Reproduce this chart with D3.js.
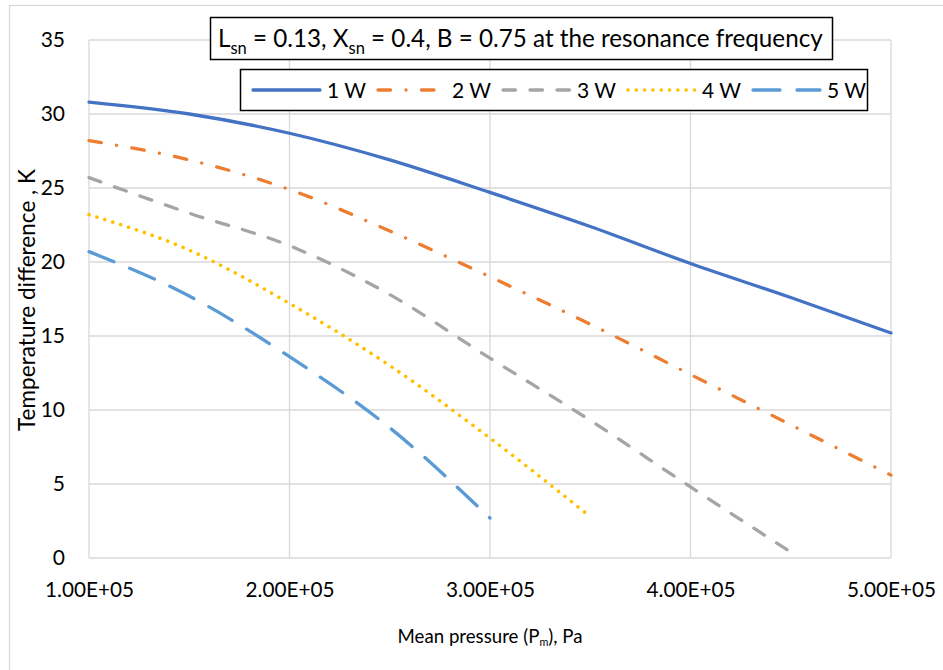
<!DOCTYPE html>
<html>
<head>
<meta charset="utf-8">
<script src="https://cdn.jsdelivr.net/npm/d3@7"></script>
<style>
  html, body { margin: 0; padding: 0; background: #fff; }
  svg { display: block; font-family: Lato, "Open Sans", sans-serif; }
</style>
</head>
<body>
<svg id="chart" width="943" height="670"></svg>
<script>
// ---- data ----
const pressure = [100000, 150000, 200000, 250000, 300000, 350000, 400000, 450000, 500000];
const power1W = [30.8, 30.0, 28.7, 26.9, 24.7, 22.4, 19.9, 17.6, 15.2];
const power2W = [28.2, 26.9, 24.9, 22.1, 19.0, 15.8, 12.4, 9.0, 5.6];
const power3W = [25.7, 23.3, 21.1, 17.8, 13.5, 9.3, 4.8, 0.4];
const power4W = [23.2, 20.8, 17.2, 13.0, 8.1, 2.8];
const power5W = [20.7, 17.7, 13.6, 8.8, 2.7];
const seriesNames = ["1 W", "2 W", "3 W", "4 W", "5 W"];
const xTicks = [100000, 200000, 300000, 400000, 500000];
const yTicks = [0, 5, 10, 15, 20, 25, 30, 35];

// ---- styles ----
const styles = [
  { color: "#4472C4", width: 3.3, dash: null },
  { color: "#ED7D31", width: 3.3, dash: "12.5,15.5,0.01,15.5" },
  { color: "#A5A5A5", width: 3.3, dash: "12.5,14.5" },
  { color: "#FFC000", width: 3.6, dash: "0.01,8.3" },
  { color: "#5B9BD5", width: 3.3, dash: "27,17" }
];
const allSeries = [power1W, power2W, power3W, power4W, power5W].map((vals, i) => ({
  name: seriesNames[i],
  style: styles[i],
  points: vals.map((v, j) => ({ x: pressure[j], y: v }))
}));

const svg = d3.select("#chart");
svg.append("rect").attr("width", 943).attr("height", 670).attr("fill", "#fff");
// outer chart border
svg.append("rect").attr("x", 9.5).attr("y", 5.5).attr("width", 960).attr("height", 700)
  .attr("fill", "none").attr("stroke", "#d9d9d9").attr("stroke-width", 1.3);

const plot = { left: 89, right: 891, top: 40, bottom: 558 };
const x = d3.scaleLinear().domain([100000, 500000]).range([plot.left, plot.right]);
const y = d3.scaleLinear().domain([0, 35]).range([plot.bottom, plot.top]);

function fit(sel, target) {
  const w = sel.node().getComputedTextLength();
  const fs = parseFloat(sel.attr("font-size"));
  const k = target / w;
  sel.attr("font-size", fs * k);
  sel.selectAll("tspan").each(function () {
    const t = d3.select(this);
    const f = t.attr("font-size");
    if (f) t.attr("font-size", parseFloat(f) * k);
    const dy = t.attr("dy");
    if (dy) t.attr("dy", parseFloat(dy) * k);
  });
}

// gridlines
const grid = svg.append("g").attr("stroke", "#d9d9d9").attr("stroke-width", 1.3);
grid.selectAll(".h").data(yTicks).join("line")
  .attr("x1", plot.left).attr("x2", plot.right)
  .attr("y1", d => y(d)).attr("y2", d => y(d));
grid.selectAll(".v").data(xTicks).join("line")
  .attr("y1", plot.top).attr("y2", plot.bottom)
  .attr("x1", d => x(d)).attr("x2", d => x(d));

// axes labels via d3 axes (domain/ticks hidden)
const yAxis = svg.append("g").attr("transform", `translate(${plot.left},0)`)
  .call(d3.axisLeft(y).tickValues(yTicks).tickSize(0).tickPadding(24).tickFormat(d3.format("d")));
yAxis.select(".domain").remove();
yAxis.selectAll("text").attr("font-family", "Lato").attr("font-size", 21).attr("fill", "#000");

const fmtE = d => d.toExponential(2).toUpperCase().replace(/E\+(\d)$/, "E+0$1");
const xAxis = svg.append("g").attr("transform", `translate(0,${plot.bottom})`)
  .call(d3.axisBottom(x).tickValues(xTicks).tickSize(0).tickPadding(24).tickFormat(fmtE));
xAxis.select(".domain").remove();
xAxis.selectAll("text").attr("font-family", "Lato").attr("font-size", 19).attr("fill", "#000")
  .each(function () { fit(d3.select(this), 89); });

// series lines
const line = d3.line().x(d => x(d.x)).y(d => y(d.y)).curve(d3.curveMonotoneX);
svg.append("g").selectAll("path").data(allSeries).join("path")
  .attr("d", d => line(d.points))
  .attr("fill", "none")
  .attr("stroke", d => d.style.color)
  .attr("stroke-width", d => d.style.width)
  .attr("stroke-linecap", "round")
  .attr("stroke-linejoin", "round")
  .attr("stroke-dasharray", d => d.style.dash);

// axis titles
const xt = svg.append("text").attr("x", 490).attr("y", 643).attr("text-anchor", "middle")
  .attr("font-size", 19).attr("fill", "#000");
xt.append("tspan").text("Mean pressure (P");
xt.append("tspan").text("m").attr("font-size", 11).attr("dy", 3);
xt.append("tspan").text("), Pa").attr("dy", -3);
fit(xt, 185);

const yt = svg.append("text").attr("transform", "translate(35,300) rotate(-90)")
  .attr("text-anchor", "middle").attr("font-size", 20).attr("fill", "#000")
  .text("Temperature difference , K");
fit(yt, 262);

// title box
svg.append("rect").attr("x", 210.5).attr("y", 17.5).attr("width", 622).attr("height", 42)
  .attr("fill", "#fff").attr("stroke", "#000").attr("stroke-width", 1.5);
const tt = svg.append("text").attr("x", 218).attr("y", 47).attr("font-size", 22).attr("fill", "#000");
tt.append("tspan").text("L");
tt.append("tspan").text("sn").attr("font-size", 15).attr("dy", 6);
tt.append("tspan").text(" = 0.13, X").attr("dy", -6);
tt.append("tspan").text("sn").attr("font-size", 15).attr("dy", 6);
tt.append("tspan").text(" = 0.4, B = 0.75 at the resonance frequency").attr("dy", -6);
fit(tt, 605);

// legend
svg.append("rect").attr("x", 240.5).attr("y", 69.5).attr("width", 627).attr("height", 41)
  .attr("fill", "#fff").attr("stroke", "#000").attr("stroke-width", 1.5);
const leg = svg.append("g").selectAll("g").data(allSeries).join("g")
  .attr("transform", (d, i) => `translate(${253 + i * 125},90)`);
leg.append("line").attr("x1", 0).attr("x2", 67).attr("y1", 0).attr("y2", 0)
  .attr("stroke", d => d.style.color)
  .attr("stroke-width", d => d.style.width)
  .attr("stroke-linecap", "round")
  .attr("stroke-dasharray", d => d.style.dash);
leg.append("text").attr("x", 74).attr("y", 7.5).attr("font-size", 21).attr("fill", "#000")
  .text(d => d.name);
</script>
</body>
</html>
